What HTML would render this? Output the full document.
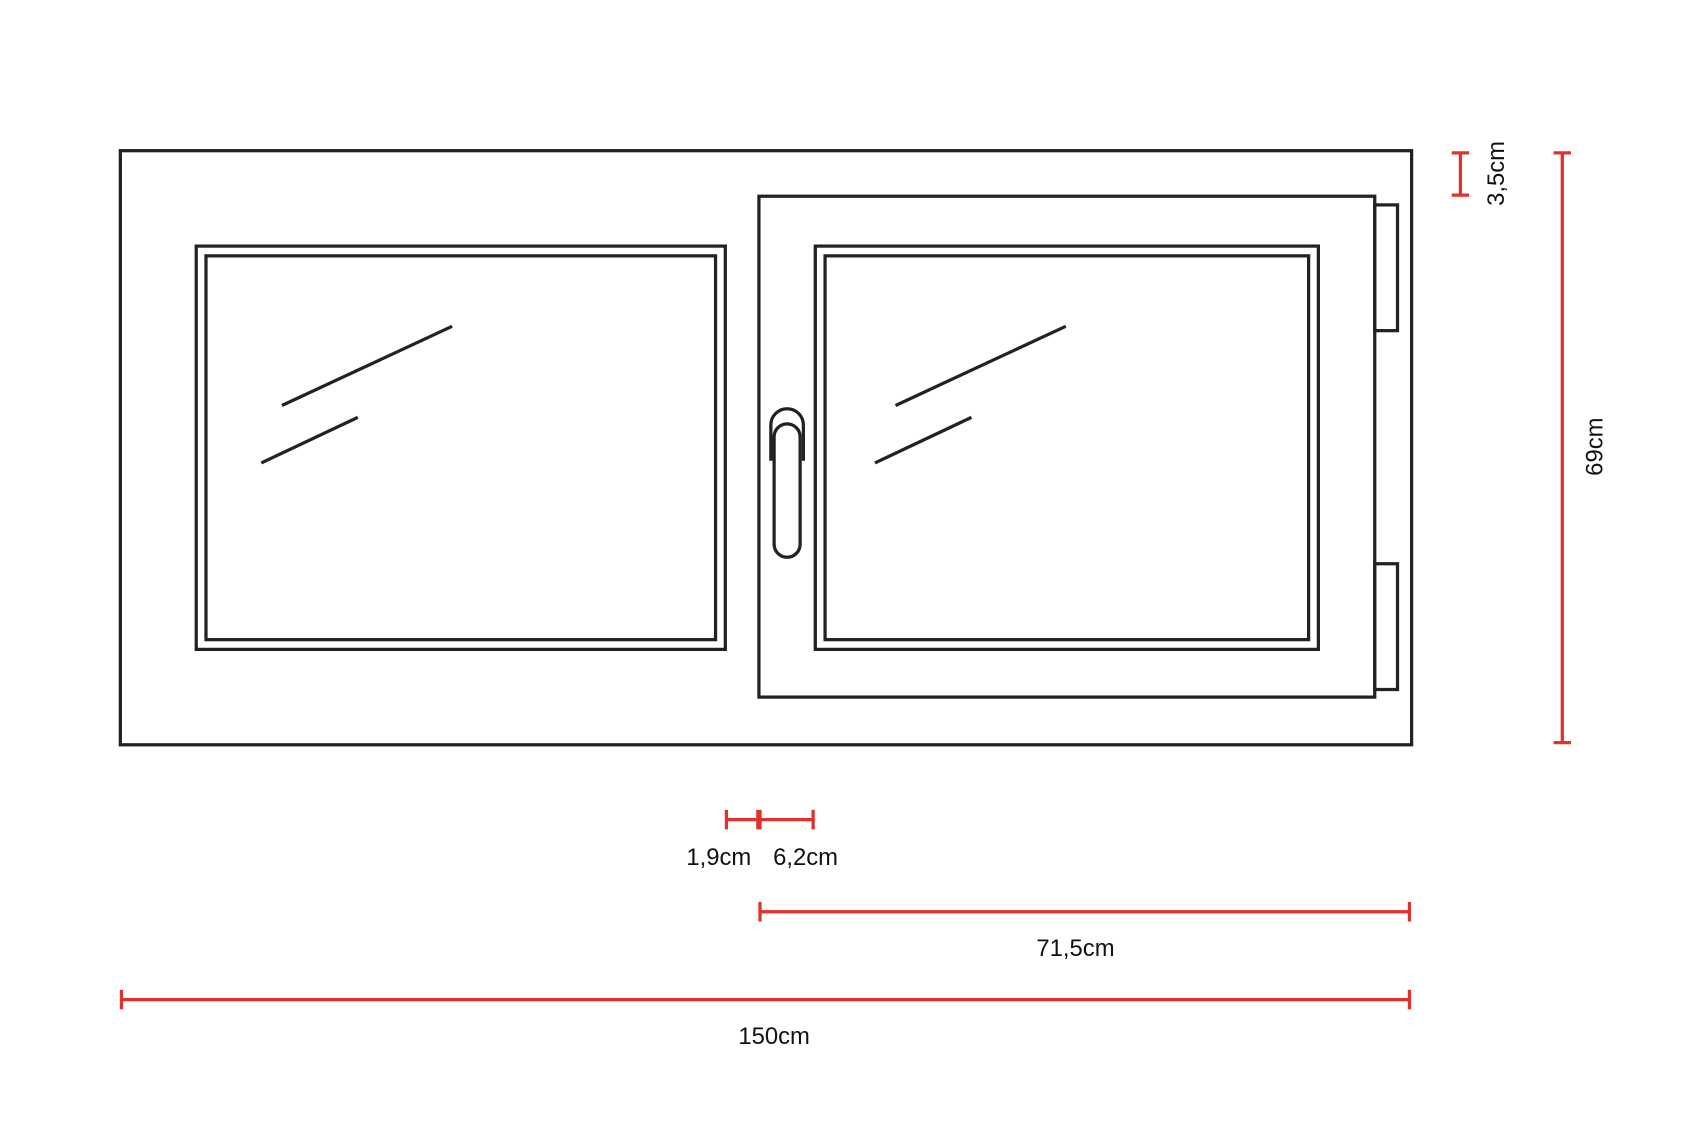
<!DOCTYPE html>
<html><head><meta charset="utf-8"><style>html,body{margin:0;padding:0;background:#fff}svg{display:block}</style></head>
<body>
<svg width="1700" height="1134" viewBox="0 0 1568 1046" preserveAspectRatio="none" xmlns="http://www.w3.org/2000/svg">
<g fill="none" stroke="#222" stroke-width="3">
<rect x="111" y="139" width="1191" height="548"/>
<rect x="181" y="227" width="488" height="372"/>
<rect x="190" y="236" width="470" height="354"/>
<rect x="700" y="181" width="568" height="462"/>
<rect x="752" y="227" width="464" height="372"/>
<rect x="761" y="236" width="446" height="354"/>
<rect x="1268" y="189" width="21" height="116"/>
<rect x="1268" y="520" width="21" height="116"/>
<line x1="260" y1="374" x2="417" y2="301"/>
<line x1="241" y1="427" x2="330" y2="385"/>
<line x1="826" y1="374" x2="983" y2="301"/>
<line x1="807" y1="427" x2="896" y2="385"/>
<path d="M711 425 L711 392 A15 15 0 0 1 741 392 L741 425"/>
<rect x="714" y="391" width="24" height="123" rx="12" fill="#fff"/>
</g>
<g stroke="#e0312c" stroke-width="3" fill="none">
<line x1="1347" y1="141" x2="1347" y2="180"/>
<line x1="1339" y1="141" x2="1355" y2="141"/>
<line x1="1339" y1="180" x2="1355" y2="180"/>
<line x1="1441" y1="141" x2="1441" y2="685"/>
<line x1="1433" y1="141" x2="1449" y2="141"/>
<line x1="1433" y1="685" x2="1449" y2="685"/>
<line x1="670" y1="756" x2="750" y2="756"/>
<line x1="670" y1="747" x2="670" y2="765"/>
<line x1="750" y1="747" x2="750" y2="765"/>
<line x1="700" y1="747" x2="700" y2="765" stroke-width="5"/>
<line x1="701" y1="841" x2="1300" y2="841"/>
<line x1="701" y1="832" x2="701" y2="850"/>
<line x1="1300" y1="832" x2="1300" y2="850"/>
<line x1="112" y1="922" x2="1300" y2="922"/>
<line x1="112" y1="913" x2="112" y2="931"/>
<line x1="1300" y1="913" x2="1300" y2="931"/>
</g>
<g font-family="Liberation Sans, sans-serif" font-size="22" fill="#111" text-anchor="middle">
<text x="663" y="798">1,9cm</text>
<text x="743" y="798">6,2cm</text>
<text x="992" y="882">71,5cm</text>
<text x="714" y="963">150cm</text>
<text transform="translate(1387,160) rotate(-90)">3,5cm</text>
<text transform="translate(1478,412) rotate(-90)">69cm</text>
</g>
</svg>
</body></html>
